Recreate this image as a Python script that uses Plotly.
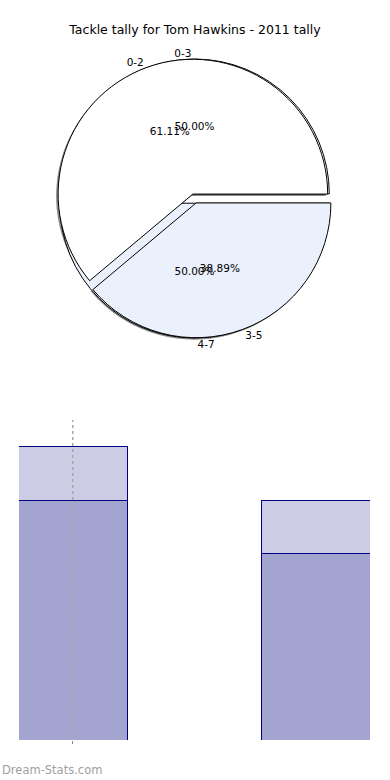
import plotly.graph_objects as go

# ---- data ----
pie1_labels = ["0-2", "3-5"]
pie1_values = [11, 7]
pie2_labels = ["0-3", "4-7"]
pie2_values = [9, 9]

bar_categories = ["A", "B"]
bar_lower = [9, 7]
bar_upper = [2, 2]

title_text = "Tackle tally for Tom Hawkins - 2011 tally"
watermark = "Dream-Stats.com"

# ---- style ----
FONT = "DejaVu Sans"
slice_colors = ["#FFFFFF", "#EBF1FC"]
pull = 0.035
W, H = 390, 780

def px_dom_x(a, b):
    return [a / W, b / W]

def px_dom_y(top, bottom):
    return [1 - bottom / H, 1 - top / H]

pie_dx = px_dom_x(55, 334)
pie_dy = px_dom_y(59, 338)
shadow_dx = px_dom_x(53, 332)
shadow_dy = px_dom_y(61, 340)

# matplotlib-style order: counterclockwise from 3 o'clock == plotly clockwise from 3 o'clock with reversed order
common = dict(sort=False, direction="clockwise", rotation=90,
              hoverinfo="skip", showlegend=False)

def rev(a):
    return list(a)[::-1]

fig = go.Figure()

# shadow
fig.add_trace(go.Pie(labels=rev(pie1_labels), values=rev(pie1_values),
                     domain=dict(x=shadow_dx, y=shadow_dy),
                     marker=dict(colors=["rgba(0,0,0,0.45)"] * 2, line=dict(width=0)),
                     pull=pull, textinfo="none", **common))
# pie 2 (below)
fig.add_trace(go.Pie(labels=rev(pie2_labels), values=rev(pie2_values),
                     domain=dict(x=pie_dx, y=pie_dy),
                     marker=dict(colors=rev(slice_colors), line=dict(color="black", width=1)),
                     pull=pull, textinfo="none", **common))
# pie 1 (top)
fig.add_trace(go.Pie(labels=rev(pie1_labels), values=rev(pie1_values),
                     domain=dict(x=pie_dx, y=pie_dy),
                     marker=dict(colors=rev(slice_colors), line=dict(color="black", width=1)),
                     pull=pull, textinfo="none", **common))

# text layers
for labels, values in [(pie2_labels, pie2_values), (pie1_labels, pie1_values)]:
    fig.add_trace(go.Pie(labels=rev(labels), values=rev(values),
                         domain=dict(x=pie_dx, y=pie_dy),
                         marker=dict(colors=["rgba(0,0,0,0)"] * 2, line=dict(width=0)),
                         pull=pull, texttemplate="%{percent:.2%}",
                         textposition="inside", insidetextorientation="horizontal",
                         textfont=dict(family=FONT, size=10.5, color="black"),
                         **common))
    fig.add_trace(go.Pie(labels=rev(labels), values=rev(values),
                         domain=dict(x=pie_dx, y=pie_dy),
                         marker=dict(colors=["rgba(0,0,0,0)"] * 2, line=dict(width=0)),
                         pull=pull, textinfo="label", textposition="outside",
                         outsidetextfont=dict(family=FONT, size=10.5, color="black"),
                         **common))

# stacked bars
fig.add_trace(go.Bar(x=bar_categories, y=bar_lower, width=0.446,
                     marker=dict(color="#A3A5D0", line=dict(color="#000080", width=1)),
                     showlegend=False, hoverinfo="skip"))
fig.add_trace(go.Bar(x=bar_categories, y=bar_upper, width=0.446,
                     marker=dict(color="#CCCDE4", line=dict(color="#000080", width=1)),
                     showlegend=False, hoverinfo="skip"))

fig.add_shape(type="line", xref="x", yref="y domain", x0=bar_categories[0], x1=bar_categories[0],
              y0=0, y1=1, line=dict(color="#A8A8A8", width=1.5, dash="dot"), layer="above")

fig.update_layout(
    width=W, height=H,
    margin=dict(l=0, r=0, t=0, b=0),
    paper_bgcolor="white", plot_bgcolor="white",
    barmode="stack",
    title=dict(text=title_text, x=0.5, xanchor="center", y=1 - 30 / H, yanchor="middle",
               font=dict(family=FONT, size=12.5, color="black")),
    xaxis=dict(domain=px_dom_x(19, 370), range=[-0.221, 1.222], showgrid=False,
               zeroline=False, showline=False, showticklabels=False,
               ticks="outside", ticklen=3, tickcolor="#888888",
               tickvals=[bar_categories[0]]),
    yaxis=dict(domain=px_dom_y(420, 740), range=[0, 12], showgrid=False,
               zeroline=False, showline=False, showticklabels=False),
    annotations=[dict(text=watermark, xref="paper", yref="paper",
                      x=0, y=1 - 770 / H, xanchor="left", yanchor="middle", showarrow=False,
                      font=dict(family="DejaVu Sans", size=11.5, color="#A0A0A0"))],
)

fig.write_html("out.html", config={"displayModeBar": False},
               post_script="document.body.style.margin='0';")
